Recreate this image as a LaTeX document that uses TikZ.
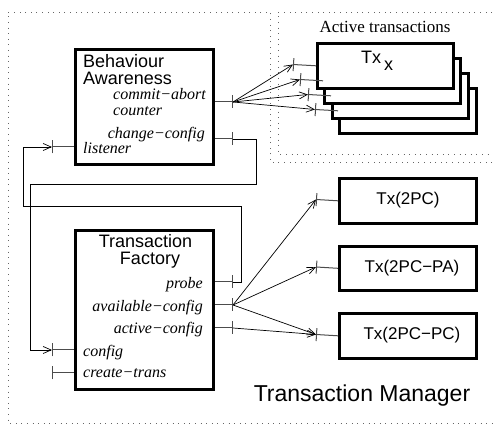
\documentclass[tikz,border=0pt]{standalone}
\usepackage{fontspec}
\setmainfont{Liberation Serif}
\setsansfont{Liberation Sans}
\usetikzlibrary{arrows.meta}
\begin{document}
\begin{tikzpicture}[x=1pt,y=-1pt,
  box/.style={draw, line width=2.6pt, fill=white, inner sep=0pt, anchor=north west},
  sf/.style={font=\sffamily\fontsize{18}{18}\selectfont, inner sep=0pt},
  txf/.style={font=\sffamily\fontsize{17}{17}\selectfont, inner sep=0pt},
  lab/.style={font=\itshape\fontsize{16}{16}\selectfont, inner sep=0pt},
  port/.style={line width=1pt, draw=black!70, arrows={Bar[width=13pt]-}},
  conn/.style={line width=0.7pt, arrows={-Straight Barb[length=8pt,width=7pt]}},
  dotline/.style={draw=black!60, line width=0.9pt, dash pattern=on 0.9pt off 4.7pt},
]
\useasboundingbox (0,0) rectangle (493,427);

% dotted frames
\draw[dotline] (492,162) -- (270,162) -- (270,12) -- (8,12) -- (8,423) -- (492,423);
\draw[dotline] (492,12) -- (278,12) -- (278,154) -- (492,154);

% main boxes
\node[box, minimum width=138pt, minimum height=115pt] (ba) at (74,48) {};
\node[box, minimum width=138pt, minimum height=159pt] (tf) at (74,229) {};

% titles
\node[sf, anchor=base west] (ba1) at (83,68) {Behaviour};
\node[sf, anchor=base west] (ba2) at (83,85) {Awareness};
\node[sf, anchor=base] (tf1) at (145.5,248) {Transaction};
\node[sf, anchor=base] (tf2) at (150,265) {Factory};

% port labels
\node[lab, anchor=base west] (l1) at (113,100) {commit−abort};
\node[lab, anchor=base west] (l2) at (113,116) {counter};
\node[lab, anchor=base east] (l3) at (205,139) {change−config};
\node[lab, anchor=base west] (l4) at (83,154) {listener};
\node[lab, anchor=base east] (l5) at (203,289) {probe};
\node[lab, anchor=base east] (l6) at (203,312) {available−config};
\node[lab, anchor=base east] (l7) at (203,334) {active−config};
\node[lab, anchor=base west] (l8) at (83,357) {config};
\node[lab, anchor=base west] (l9) at (83,378) {create−trans};

% active transactions stack
\node[font=\fontsize{17}{17}\selectfont, inner sep=0pt, anchor=base] (atx) at (385,33) {Active transactions};
\node[box, minimum width=137pt, minimum height=45pt] (b4) at (338,87) {};
\node[box, minimum width=136pt, minimum height=45pt] (b3) at (331,72) {};
\node[box, minimum width=136pt, minimum height=45pt] (b2) at (323,57) {};
\node[box, minimum width=136pt, minimum height=45pt] (b1) at (316,42) {};
\node[sf, anchor=base west] (txx) at (361,64) {Tx\,\raisebox{-7pt}{x}};

% Tx boxes
\node[box, minimum width=137pt, minimum height=45pt] (t2pc) at (338,177) {};
\node[box, minimum width=137pt, minimum height=44pt] (tpa) at (338,245) {};
\node[box, minimum width=137pt, minimum height=45pt] (tpc) at (338,312) {};
\node[txf] (t2pcl) at (408,200.5) {Tx(2PC)};
\node[txf] (tpal) at (412,268) {Tx(2PC−PA)};
\node[txf] (tpcl) at (412,335.5) {Tx(2PC−PC)};

\node[font=\sffamily\fontsize{23}{23}\selectfont, inner sep=0pt, anchor=base] (tm) at (362,402) {Transaction Manager};

% tick coordinates
\coordinate (ca) at (233,102);
\coordinate (cc) at (233,139);
\coordinate (ls) at (52,147);
\coordinate (pr) at (233,282);
\coordinate (av) at (233,305);
\coordinate (ac) at (233,328);
\coordinate (cf) at (52,350);
\coordinate (ct) at (52,373);
\coordinate (s1) at (293,64.5);
\coordinate (s2) at (300,79.5);
\coordinate (s3) at (308,94.5);
\coordinate (s4) at (315,109.5);
\coordinate (x1) at (316,199.5);
\coordinate (x2) at (316,267);
\coordinate (x3) at (316,334.5);

% port stubs
\draw[port] (ca) -- (ca -| ba.east);
\draw[port] (cc) -- (cc -| ba.east);
\draw[port] (ls) -- (ls -| ba.west);
\draw[port] (pr) -- (pr -| tf.east);
\draw[port] (av) -- (av -| tf.east);
\draw[port] (ac) -- (ac -| tf.east);
\draw[port] (cf) -- (cf -| tf.west);
\draw[port] (ct) -- (ct -| tf.west);
\draw[port] (s1) -- (b1.west);
\draw[port] (s2) -- (b2.west);
\draw[port] (s3) -- (b3.west);
\draw[port] (s4) -- (b4.west);
\draw[port] (x1) -- (t2pc.west);
\draw[port] (x2) -- (tpa.west);
\draw[port] (x3) -- (tpc.west);

% connectors
\draw[conn] (ca) -- (s1);
\draw[conn] (ca) -- (s2);
\draw[conn] (ca) -- (s3);
\draw[conn] (ca) -- (s4);
\draw[conn] (av) -- (x1);
\draw[conn] (av) -- (x2);
\draw[conn] (av) -- (x3);
\draw[conn] (ac) -- (x3);
\draw[conn] (pr) -- (241,282) -- (241,206) -- (23,206) -- (23,147) -- (ls);
\draw[conn] (cc) -- (256,139) -- (256,184) -- (30,184) -- (30,350) -- (cf);
\end{tikzpicture}
\end{document}
